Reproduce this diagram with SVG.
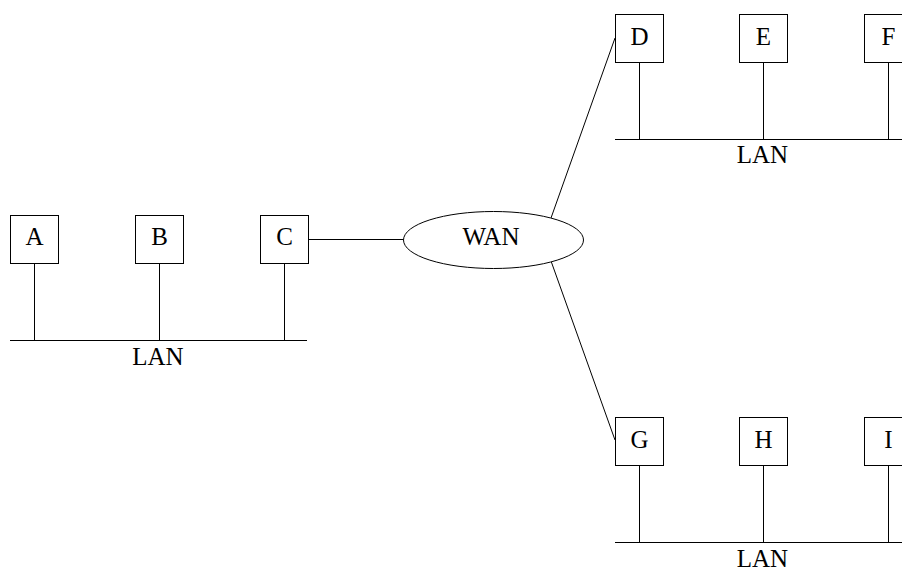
<svg xmlns="http://www.w3.org/2000/svg" width="902" height="569" viewBox="0 0 902 569">
<style>
.box{fill:#fff;stroke:#000;stroke-width:1}
.ln{fill:none;stroke:#000;stroke-width:1}
text{font-family:"Liberation Serif","Times New Roman",serif;font-size:25px;fill:#000;text-anchor:middle}
</style>
<rect width="902" height="569" fill="#fff"/>
<g id="connectors">
<line class="ln" x1="10" y1="340.5" x2="307" y2="340.5"/>
<line class="ln" x1="34.5" y1="263.5" x2="34.5" y2="340.5"/>
<line class="ln" x1="159.5" y1="263.5" x2="159.5" y2="340.5"/>
<line class="ln" x1="284.5" y1="263.5" x2="284.5" y2="340.5"/>
<line class="ln" x1="308" y1="239.5" x2="403" y2="239.5"/>
<line class="ln" x1="551" y1="218" x2="615" y2="38"/>
<line class="ln" x1="551" y1="261" x2="615" y2="440"/>
<line class="ln" x1="615" y1="139.5" x2="902" y2="139.5"/>
<line class="ln" x1="639.5" y1="62" x2="639.5" y2="139.5"/>
<line class="ln" x1="763.5" y1="62" x2="763.5" y2="139.5"/>
<line class="ln" x1="888.5" y1="62" x2="888.5" y2="139.5"/>
<line class="ln" x1="615" y1="542.5" x2="902" y2="542.5"/>
<line class="ln" x1="639.5" y1="465.5" x2="639.5" y2="542.5"/>
<line class="ln" x1="763.5" y1="465.5" x2="763.5" y2="542.5"/>
<line class="ln" x1="888.5" y1="465.5" x2="888.5" y2="542.5"/>
</g>
<g id="A"><rect class="box" x="10.5" y="215.5" width="48" height="48"/><text x="34.5" y="245">A</text></g>
<g id="B"><rect class="box" x="135.5" y="215.5" width="48" height="48"/><text x="159.5" y="245">B</text></g>
<g id="C"><rect class="box" x="260.5" y="215.5" width="48" height="48"/><text x="284.5" y="245">C</text></g>
<g id="LAN1"><text x="158" y="365">LAN</text></g>
<g id="WAN"><ellipse class="box" cx="493.5" cy="240" rx="90" ry="28.5"/><text x="491" y="245">WAN</text></g>
<g id="D"><rect class="box" x="615.5" y="14.5" width="48" height="48"/><text x="639.5" y="45">D</text></g>
<g id="E"><rect class="box" x="739.5" y="14.5" width="48" height="48"/><text x="763.5" y="45">E</text></g>
<g id="F"><rect class="box" x="864.5" y="14.5" width="48" height="48"/><text x="888.5" y="45">F</text></g>
<g id="LAN2"><text x="762.5" y="163">LAN</text></g>
<g id="G"><rect class="box" x="615.5" y="417.5" width="48" height="48"/><text x="639.5" y="448">G</text></g>
<g id="H"><rect class="box" x="739.5" y="417.5" width="48" height="48"/><text x="763.5" y="448">H</text></g>
<g id="I"><rect class="box" x="864.5" y="417.5" width="48" height="48"/><text x="888.5" y="448">I</text></g>
<g id="LAN3"><text x="762.5" y="566.5">LAN</text></g>
</svg>
